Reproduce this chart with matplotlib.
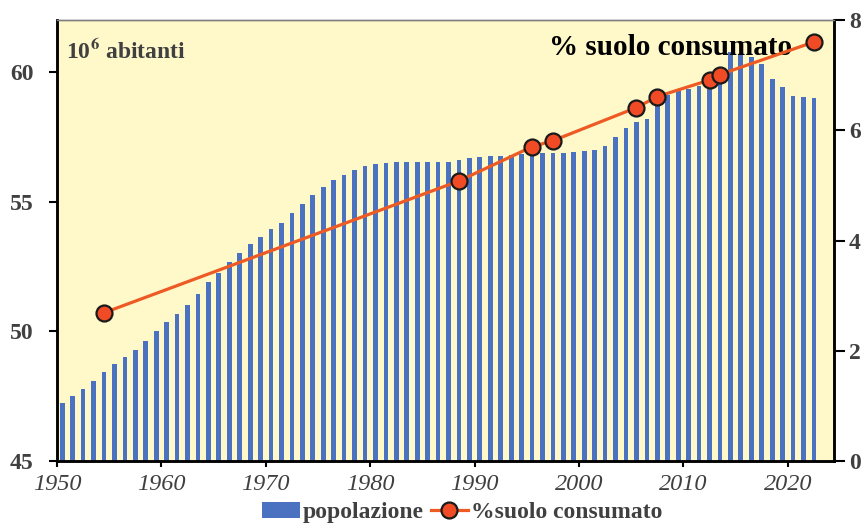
import matplotlib
matplotlib.use('Agg')
import matplotlib.pyplot as plt
from matplotlib.patches import Patch
from matplotlib.lines import Line2D

plt.rcParams['font.family'] = ['Liberation Serif', 'DejaVu Serif']
plt.rcParams['mathtext.fontset'] = 'stix'

# population (millions), one bar per year
anni = list(range(1950, 2023))
popolazione = [47.25, 47.51, 47.76, 48.08, 48.43, 48.74, 49.02, 49.29, 49.61, 50.00,
               50.35, 50.67, 51.03, 51.43, 51.89, 52.26, 52.68, 53.03, 53.37, 53.64,
               53.93, 54.16, 54.55, 54.91, 55.27, 55.56, 55.83, 56.04, 56.23, 56.36,
               56.45, 56.50, 56.52, 56.53, 56.54, 56.54, 56.54, 56.54, 56.60, 56.68,
               56.72, 56.75, 56.77, 56.78, 56.82, 56.84, 56.86, 56.89, 56.89, 56.92,
               56.96, 56.98, 57.14, 57.48, 57.85, 58.05, 58.20, 58.80, 59.10, 59.27,
               59.35, 59.45, 59.50, 59.65, 60.78, 60.68, 60.59, 60.30, 59.71, 59.43,
               59.07, 59.02, 59.00]

# consumed soil (%)
anni_suolo = [1954, 1988, 1995, 1997, 2005, 2007, 2012, 2013, 2022]
suolo = [2.69, 5.08, 5.70, 5.81, 6.41, 6.61, 6.91, 7.01, 7.60]

x_ticks = [1950, 1960, 1970, 1980, 1990, 2000, 2010, 2020]
left_ticks = [45, 50, 55, 60]
right_ticks = [0, 2, 4, 6, 8]

bar_col = '#4A72C0'
line_col = '#EE5A24'
grey = '#404040'

fig = plt.figure(figsize=(8.64, 5.24), dpi=100)
ax = fig.add_axes([0.066, 0.120, 0.899, 0.842])
ax.set_facecolor('#FFF9CA')

ax.bar([a + 0.5 for a in anni], popolazione, width=0.45, color=bar_col, zorder=2)
ax.set_ylim(45, 62)
ax.set_xlim(1950, 2024.4)
ax.set_yticks(left_ticks)
ax.set_xticks(x_ticks)
ax.tick_params(axis='y', direction='out', length=6, width=1.5, pad=11,
               labelsize=17, labelcolor=grey)
ax.tick_params(axis='x', direction='out', length=4, width=1.5, pad=5,
               labelsize=17.5, labelcolor=grey)
for lab in ax.get_yticklabels():
    lab.set_fontweight('bold')
for lab in ax.get_xticklabels():
    lab.set_fontstyle('italic')

ax2 = ax.twinx()
ax2.plot([a + 0.5 for a in anni_suolo], suolo, '-o', color=line_col, lw=2.3,
         markersize=11.5, markerfacecolor='#F04B24', markeredgecolor='#1a1a1a',
         markeredgewidth=1.6, zorder=5)
ax2.set_ylim(0, 8)
ax2.set_yticks(right_ticks)
ax2.tick_params(axis='y', direction='out', length=8, width=1.5, pad=3,
                labelsize=17, labelcolor=grey)
for lab in ax2.get_yticklabels():
    lab.set_fontweight('bold')

for a in (ax, ax2):
    for s in ('left', 'right', 'bottom'):
        a.spines[s].set_linewidth(1.8)
        a.spines[s].set_color('black')
    a.spines['top'].set_linewidth(1.0)
    a.spines['top'].set_color('#808080')

ax.text(0.012, 0.955, r'10$^{\mathbf{6}}$ abitanti', transform=ax.transAxes,
        fontsize=17, fontweight='bold', color=grey, va='top', ha='left')
ax.text(0.946, 0.968, '% suolo consumato', transform=ax.transAxes,
        fontsize=21, fontweight='bold', color='black', va='top', ha='right', zorder=10)

handles = [Patch(facecolor=bar_col, edgecolor='none'),
           Line2D([], [], color=line_col, lw=2.3, marker='o', markersize=11.5,
                  markerfacecolor='#F04B24', markeredgecolor='#1a1a1a',
                  markeredgewidth=1.6)]
leg = fig.legend(handles, ['popolazione', '%suolo consumato'], loc='center',
                 bbox_to_anchor=(0.535, 0.022), ncol=2, frameon=False,
                 handlelength=1.6, handletextpad=0.1, columnspacing=0.3,
                 prop={'family': 'Liberation Serif', 'weight': 'bold', 'size': 17})
for t in leg.get_texts():
    t.set_color(grey)

fig.savefig('out.png', dpi=100)
